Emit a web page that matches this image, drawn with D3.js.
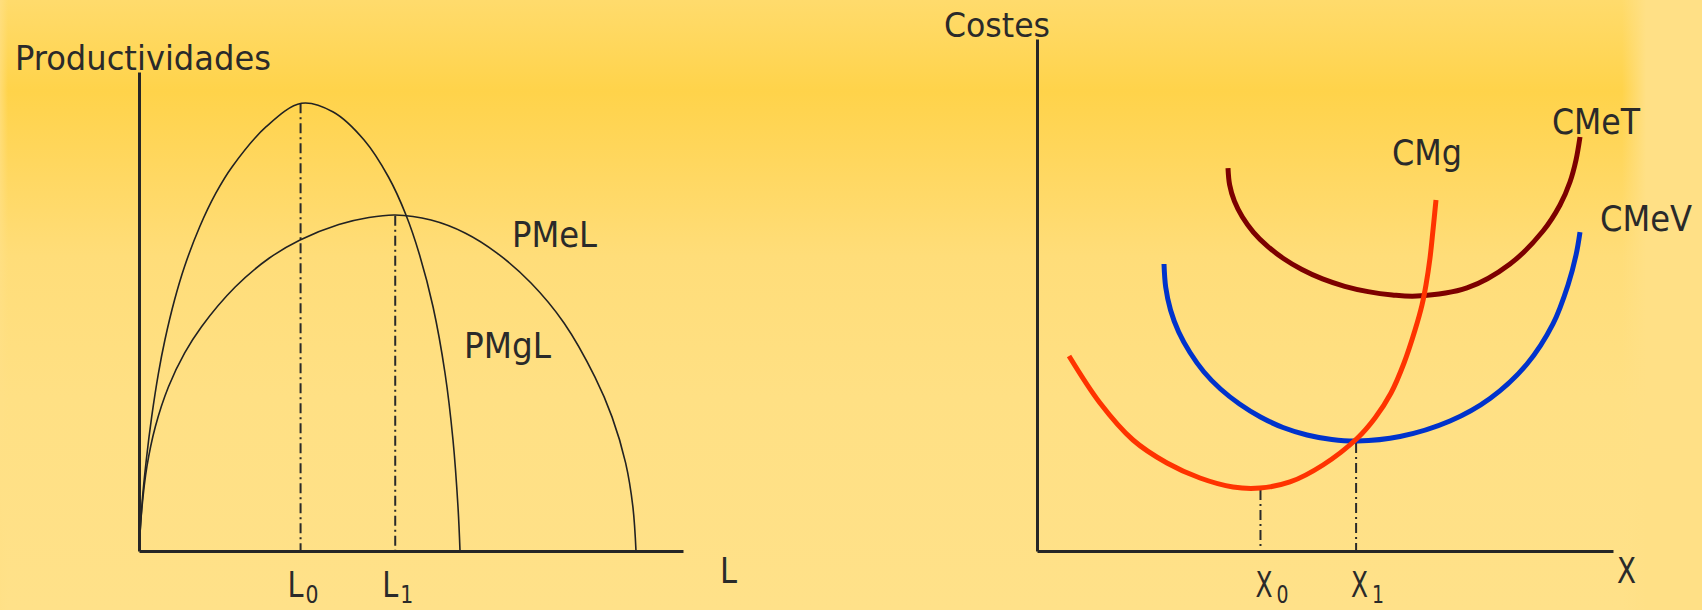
<!DOCTYPE html>
<html><head><meta charset="utf-8">
<script src="https://cdn.jsdelivr.net/npm/d3@7"></script>
<style>html,body{margin:0;padding:0;overflow:hidden;background:#ffe086}</style>
</head><body>
<svg id="c" width="1702" height="610"></svg>
<script>
// ---------- DATA (arbitrary units 0..10) ----------
const pmgL = [[0,0],[0.061,1.065],[0.134,1.90],[0.233,2.80],[0.357,3.71],[0.476,4.405],[0.653,5.24],[0.836,5.935],[1.116,6.77],[1.410,7.465],[1.713,8.023],[2.338,8.858],[2.987,9.347],[3.570,9.165],[4.138,8.580],[4.586,7.808],[4.908,7.015],[5.158,6.180],[5.406,5.094],[5.625,3.716],[5.772,2.317],[5.864,0.919],[5.901,0]];
const pmeL = [[0,0],[0.050,0.856],[0.145,1.760],[0.300,2.595],[0.542,3.430],[0.840,4.134],[1.149,4.683],[1.768,5.511],[2.397,6.117],[2.960,6.493],[3.673,6.816],[4.226,6.962],[4.706,7.015],[5.368,6.91],[5.993,6.64],[6.581,6.22],[7.206,5.595],[7.813,4.76],[8.382,3.63],[8.695,2.80],[8.945,1.84],[9.079,0.92],[9.136,0]];
const leftMarks = [{name:"L", sub:"0", x:2.97, y:9.35},{name:"L", sub:"1", x:4.71, y:7.0}];

const cmg  = [[0.556,3.809],[1.094,2.891],[1.667,2.168],[2.257,1.719],[2.830,1.426],[3.403,1.250],[3.872,1.230],[4.392,1.348],[4.965,1.680],[5.556,2.197],[5.868,2.598],[6.146,3.086],[6.372,3.672],[6.563,4.316],[6.684,4.805],[6.753,5.195],[6.823,5.723],[6.875,6.270],[6.927,6.855]];
const cmev = [[2.205,5.605],[2.234,5.156],[2.318,4.707],[2.460,4.277],[2.656,3.877],[2.899,3.496],[3.186,3.164],[3.516,2.871],[3.880,2.617],[4.271,2.412],[4.688,2.266],[5.118,2.178],[5.556,2.148],[6.302,2.236],[7.170,2.539],[7.865,2.979],[8.507,3.652],[8.958,4.434],[9.219,5.195],[9.358,5.781],[9.427,6.230]];
const cmet = [[3.316,7.480],[3.344,7.154],[3.427,6.832],[3.566,6.523],[3.755,6.230],[3.995,5.959],[4.278,5.713],[4.599,5.498],[4.957,5.314],[5.342,5.170],[5.747,5.066],[6.168,5.002],[6.597,4.980],[7.465,5.137],[8.212,5.605],[8.785,6.250],[9.080,6.758],[9.253,7.207],[9.358,7.637],[9.427,8.086]];
const rightMarks = [{name:"X", sub:"0", x:3.88, y:1.23},{name:"X", sub:"1", x:5.54, y:2.15}];

const curveLabelsLeft  = ["PMeL","PMgL"];
const curveLabelsRight = ["CMg","CMeT","CMeV"];
const axisTitles = ["Productividades","Costes","L","X"];

// ---------- SETUP ----------
const svg = d3.select("#c");
const W = 1702, H = 610;
const FONT = "'DejaVu Sans Condensed','DejaVu Sans',Verdana,sans-serif";
const INK = "#2a2a2a";

// background
const defs = svg.append("defs");
const bg = defs.append("linearGradient").attr("id","bg").attr("x1",0).attr("y1",0).attr("x2",0).attr("y2",1);
[[0,"#ffdb6c"],[0.06,"#ffd85f"],[0.15,"#ffd34a"],[0.24,"#ffd65a"],[0.42,"#ffdd79"],[0.65,"#ffe084"],[1,"#ffe189"]]
  .forEach(([o,c])=>bg.append("stop").attr("offset",o).attr("stop-color",c));
svg.append("rect").attr("width",W).attr("height",H).attr("fill","url(#bg)");
const side = defs.append("linearGradient").attr("id","side").attr("x1",0).attr("y1",0).attr("x2",1).attr("y2",0);
side.append("stop").attr("offset",0).attr("stop-color","#ffe086").attr("stop-opacity",0);
side.append("stop").attr("offset",0.3).attr("stop-color","#ffe086").attr("stop-opacity",1);
side.append("stop").attr("offset",1).attr("stop-color","#ffe086").attr("stop-opacity",1);
svg.append("rect").attr("x",1622).attr("y",0).attr("width",80).attr("height",H).attr("fill","url(#side)");
const lside = defs.append("linearGradient").attr("id","lside").attr("x1",0).attr("y1",0).attr("x2",1).attr("y2",0);
lside.append("stop").attr("offset",0).attr("stop-color","#ffe086").attr("stop-opacity",0.7);
lside.append("stop").attr("offset",1).attr("stop-color","#ffe086").attr("stop-opacity",0);
svg.append("rect").attr("x",0).attr("y",0).attr("width",8).attr("height",H).attr("fill","url(#lside)");

function axes(g, x, y){
  g.append("g").attr("transform",`translate(0,${y.range()[0]})`)
    .call(d3.axisBottom(x).tickValues([]).tickSizeOuter(0));
  g.append("g").attr("transform",`translate(${x.range()[0]},0)`)
    .call(d3.axisLeft(y).tickValues([]).tickSizeOuter(0));
  g.selectAll(".domain").attr("stroke","#262626").attr("stroke-width",3);
}
function txt(x, y, s, size, len){
  const t = svg.append("text").attr("x",x).attr("y",y).text(s)
    .attr("font-family",FONT).attr("font-size",size).attr("fill",INK);
  if(len) t.attr("textLength",len).attr("lengthAdjust","spacingAndGlyphs");
  return t;
}

// ---------- LEFT CHART ----------
const xL = d3.scaleLinear().domain([0,10]).range([139,683]);
const yL = d3.scaleLinear().domain([0,10]).range([551,72]);
const gl = svg.append("g");
const lineL = d3.line().x(d=>xL(d[0])).y(d=>yL(d[1])).curve(d3.curveCatmullRom.alpha(0.5));

gl.selectAll(".dd").data(leftMarks).join("line")
  .attr("x1",d=>xL(d.x)).attr("x2",d=>xL(d.x))
  .attr("y1",d=>yL(d.y)).attr("y2",yL(0))
  .attr("stroke",INK).attr("stroke-width",2).attr("stroke-dasharray","10,4,2,4");

gl.selectAll(".cv").data([pmgL,pmeL]).join("path")
  .attr("d",lineL).attr("fill","none").attr("stroke","#222").attr("stroke-width",1.6)
  .attr("stroke-linejoin","round");

axes(gl, xL, yL);

txt(15, 70, axisTitles[0], 33, 256);
txt(512, 247, curveLabelsLeft[0], 36, 85);
txt(464, 358, curveLabelsLeft[1], 36, 87);
txt(720, 583, axisTitles[2], 36, 17);

leftMarks.forEach(m=>{
  const x0 = xL(m.x);
  txt(x0-13, 597, m.name, 36, 16);
  txt(x0+5, 603, m.sub, 25, 13);
});

// ---------- RIGHT CHART ----------
const xR = d3.scaleLinear().domain([0,10]).range([1037,1613]);
const yR = d3.scaleLinear().domain([0,10]).range([551,39]);
const gr = svg.append("g");
const lineR = d3.line().x(d=>xR(d[0])).y(d=>yR(d[1])).curve(d3.curveCatmullRom.alpha(0.5));

gr.selectAll(".dd").data(rightMarks).join("line")
  .attr("x1",d=>xR(d.x)).attr("x2",d=>xR(d.x))
  .attr("y1",d=>yR(d.y)+2).attr("y2",yR(0))
  .attr("stroke",INK).attr("stroke-width",2).attr("stroke-dasharray","10,4,2,4");

const series = [{d:cmet,c:"#7d0000"},{d:cmev,c:"#0033cc"},{d:cmg,c:"#ff3300"}];
gr.selectAll(".cv").data(series).join("path")
  .attr("d",s=>lineR(s.d)).attr("fill","none").attr("stroke",s=>s.c).attr("stroke-width",5);

axes(gr, xR, yR);

txt(944, 37, axisTitles[1], 33, 106);
txt(1392, 165, curveLabelsRight[0], 36, 70);
txt(1552, 134, curveLabelsRight[1], 36, 88);
txt(1600, 231, curveLabelsRight[2], 36, 92);
txt(1617, 583, axisTitles[3], 36, 19);

rightMarks.forEach(m=>{
  const x0 = xR(m.x);
  txt(x0-5, 597, m.name, 36, 17);
  txt(x0+16, 603, m.sub, 25, 12);
});
</script>
</body></html>
